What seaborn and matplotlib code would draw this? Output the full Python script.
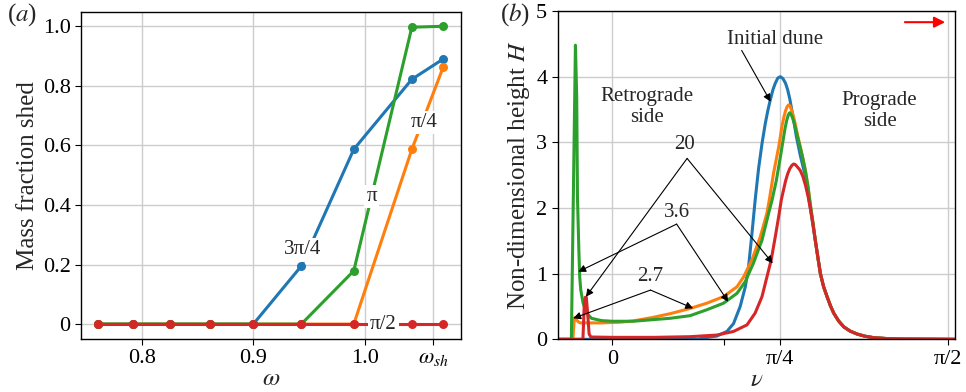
import numpy as np
import pandas as pd
import matplotlib
matplotlib.use("Agg")
import matplotlib.pyplot as plt
import seaborn as sns

# ---------------- data: panel (a) ----------------
omega = [0.761, 0.792, 0.825, 0.861, 0.900, 0.943, 0.990, 1.042, 1.070]
shed_3pi4 = [0, 0, 0, 0, 0, 0.195, 0.587, 0.822, 0.890]
shed_pi4 = [0, 0, 0, 0, 0, 0, 0, 0.587, 0.862]
shed_pi = [0, 0, 0, 0, 0, 0, 0.179, 0.997, 1.0]
shed_pi2 = [0, 0, 0, 0, 0, 0, 0, 0, 0]
omega_sh = 1.061

# ---------------- data: panel (b) ----------------
nu_tail = [0.949, 0.961, 0.973, 0.988, 1.004, 1.020, 1.035, 1.058, 1.082, 1.112, 1.145, 1.180,
           1.222, 1.280, 1.348, 1.602]
H_tail = [1.51, 1.25, 1.00, 0.80, 0.65, 0.51, 0.40, 0.28, 0.19, 0.125, 0.08, 0.048,
          0.025, 0.012, 0.005, 0.0]

nu_initial = [-0.255, 0.40, 0.426, 0.489, 0.536, 0.567, 0.598, 0.622, 0.637, 0.653,
              0.668, 0.684, 0.700, 0.715, 0.727, 0.739, 0.751, 0.762, 0.774, 0.786,
              0.798, 0.810, 0.820, 0.830, 0.840, 0.850, 0.860, 0.879, 0.903, 0.926, 0.938]
H_initial = [0, 0, 0.02, 0.05, 0.12, 0.24, 0.50, 0.80, 1.10, 1.61,
             2.12, 2.60, 2.98, 3.28, 3.48, 3.65, 3.80, 3.90, 3.98, 4.00,
             3.97, 3.90, 3.80, 3.66, 3.48, 3.30, 3.10, 2.80, 2.48, 2.00, 1.74]

nu_27 = [-0.255, -0.184, -0.177, -0.170, -0.160, -0.150, -0.05, 0.036, 0.098, 0.192,
         0.270, 0.364, 0.442, 0.520, 0.583, 0.614, 0.653, 0.692, 0.723, 0.734,
         0.754, 0.778, 0.786, 0.793, 0.802, 0.810, 0.817, 0.824, 0.830, 0.836,
         0.842, 0.848, 0.856, 0.867, 0.879, 0.891, 0.903, 0.915, 0.926, 0.938]
H_27 = [0, 0, 0.33, 0.31, 0.27, 0.25, 0.25, 0.26, 0.28, 0.335,
        0.39, 0.47, 0.55, 0.65, 0.80, 0.95, 1.21, 1.56, 1.92, 2.12,
        2.53, 2.93, 3.09, 3.24, 3.38, 3.48, 3.54, 3.57, 3.56, 3.51,
        3.45, 3.38, 3.27, 3.10, 2.93, 2.76, 2.57, 2.33, 2.05, 1.78]

nu_36 = [-0.255, -0.191, -0.172, -0.166, -0.1625, -0.156, -0.152, -0.147, -0.136, -0.120,
         -0.097, -0.05, 0.0, 0.098, 0.192, 0.270, 0.364, 0.442, 0.520, 0.583,
         0.622, 0.660, 0.700, 0.731, 0.747, 0.767, 0.786, 0.801, 0.808, 0.816,
         0.823, 0.829, 0.835, 0.842, 0.849, 0.856, 0.867, 0.879, 0.891, 0.903,
         0.915, 0.926, 0.938]
H_36 = [0, 0, 4.48, 3.69, 2.17, 1.36, 0.95, 0.75, 0.55, 0.40,
        0.32, 0.285, 0.275, 0.275, 0.30, 0.32, 0.36, 0.45, 0.55, 0.70,
        0.88, 1.16, 1.51, 1.92, 2.12, 2.42, 2.78, 3.08, 3.22, 3.34,
        3.42, 3.45, 3.43, 3.38, 3.31, 3.22, 3.07, 2.92, 2.75, 2.56,
        2.32, 2.05, 1.78]

nu_20 = [-0.255, -0.137, -0.131, -0.126, -0.121, -0.115, -0.108, -0.100, 0.0, 0.20,
         0.364, 0.489, 0.567, 0.630, 0.668, 0.700, 0.723, 0.743, 0.762, 0.778,
         0.790, 0.801, 0.810, 0.820, 0.830, 0.840, 0.848, 0.856, 0.864, 0.872,
         0.879, 0.891, 0.903, 0.915, 0.926, 0.938]
H_20 = [0, 0, 0.50, 0.64, 0.64, 0.40, 0.08, 0.035, 0.03, 0.03,
        0.04, 0.065, 0.12, 0.22, 0.40, 0.65, 0.95, 1.21, 1.56, 1.87,
        2.12, 2.28, 2.41, 2.52, 2.60, 2.65, 2.67, 2.66, 2.63, 2.60,
        2.57, 2.48, 2.35, 2.18, 1.99, 1.76]

C_BLUE, C_ORANGE, C_GREEN, C_RED = "#1f77b4", "#ff7f0e", "#2ca02c", "#d62728"

# ---------------- style ----------------
sns.set_style("ticks")
plt.rcParams["font.family"] = ["Liberation Serif", "DejaVu Serif"]
plt.rcParams["mathtext.fontset"] = "stix"
plt.rcParams["axes.edgecolor"] = "black"
plt.rcParams["axes.linewidth"] = 1.0
plt.rcParams["xtick.color"] = "black"
plt.rcParams["ytick.color"] = "black"
plt.rcParams["xtick.direction"] = "out"
plt.rcParams["ytick.direction"] = "out"

fig = plt.figure(figsize=(9.66, 3.92), dpi=100)
axA = fig.add_axes([0.0839, 0.1352, 0.3933, 0.8342])
axB = fig.add_axes([0.5773, 0.1344, 0.4113, 0.8375])

TICK_FS = 16
LAB_FS = 18
ANN_FS = 15

# ---------------- panel (a) ----------------
dfA = pd.DataFrame({"omega": omega, "3pi4": shed_3pi4, "pi4": shed_pi4,
                    "pi": shed_pi, "pi2": shed_pi2})
for col, c in [("3pi4", C_BLUE), ("pi4", C_ORANGE), ("pi", C_GREEN), ("pi2", C_RED)]:
    sns.lineplot(data=dfA, x="omega", y=col, ax=axA, color=c, lw=2.2,
                 marker="o", markersize=6.5, markeredgewidth=0,
                 estimator=None, sort=False, zorder=2)

axA.set_xlim(0.7457, 1.086)
axA.set_ylim(-0.05, 1.048)
axA.set_xticks([0.8, 0.9, 1.0, omega_sh])
axA.set_xticklabels(["0.8", "0.9", "1.0", r"$\omega_{sh}$"])
axA.set_yticks([0, 0.2, 0.4, 0.6, 0.8, 1.0])
axA.set_yticklabels(["0", "0.2", "0.4", "0.6", "0.8", "1.0"])
axA.grid(True, color="#cccccc", lw=1.0, zorder=0)
axA.set_axisbelow(True)
axA.tick_params(labelsize=TICK_FS, length=4, width=0.8)
axA.set_xlabel(r"$\omega$", fontsize=LAB_FS, labelpad=0)
axA.set_ylabel("Mass fraction shed", fontsize=LAB_FS, labelpad=3)
for s in axA.spines.values():
    s.set_visible(True)

box = dict(facecolor="white", edgecolor="none", pad=1.5)
axA.text(0.9441, 0.249, "3π/4", fontsize=ANN_FS, ha="center", va="center", bbox=box, zorder=5)
axA.text(1.006, 0.428, "π", fontsize=ANN_FS, ha="center", va="center", bbox=box, zorder=5)
axA.text(1.0528, 0.676, "π/4", fontsize=ANN_FS, ha="center", va="center", bbox=box, zorder=5)
axA.text(1.0164, 0.0, "π/2", fontsize=ANN_FS, ha="center", va="center", bbox=box, zorder=5)

# ---------------- panel (b) ----------------
curves = [
    (nu_initial + nu_tail, H_initial + H_tail, C_BLUE),
    (nu_27 + nu_tail, H_27 + H_tail, C_ORANGE),
    (nu_36 + nu_tail, H_36 + H_tail, C_GREEN),
    (nu_20 + nu_tail, H_20 + H_tail, C_RED),
]
for xs, ys, c in curves:
    sns.lineplot(x=xs, y=ys, ax=axB, color=c, lw=2.2, estimator=None, sort=False,
                 zorder=2, solid_joinstyle="round")

axB.set_xlim(-0.255, 1.602)
axB.set_ylim(0, 5)
axB.set_xticks([0, np.pi / 4, np.pi / 2])
axB.set_xticklabels(["0", "π/4", "π/2"])
axB.set_xticks([np.pi / 6], minor=True)
axB.set_yticks([0, 1, 2, 3, 4, 5])
axB.set_yticklabels(["0", "1", "2", "3", "4", "5"])
axB.grid(True, which="major", color="#cccccc", lw=1.0, zorder=0)
axB.set_axisbelow(True)
axB.tick_params(which="both", labelsize=TICK_FS, length=4, width=0.8)
axB.set_xlabel(r"$\nu$", fontsize=LAB_FS, labelpad=0)
axB.set_ylabel(r"Non-dimensional height $H$", fontsize=LAB_FS, labelpad=3)
for s in axB.spines.values():
    s.set_visible(True)

axB.text(0.759, 4.57, "Initial dune", fontsize=ANN_FS, ha="center", va="center")
axB.text(0.161, 3.54, "Retrograde\nside", fontsize=ANN_FS, ha="center", va="center", linespacing=1.15)
axB.text(1.250, 3.48, "Prograde\nside", fontsize=ANN_FS, ha="center", va="center", linespacing=1.15)
axB.text(0.339, 2.96, "20", fontsize=ANN_FS, ha="center", va="center")
axB.text(0.301, 1.93, "3.6", fontsize=ANN_FS, ha="center", va="center")
axB.text(0.176, 0.963, "2.7", fontsize=ANN_FS, ha="center", va="center")

arr = dict(arrowstyle="-|>", color="black", lw=0.8, mutation_scale=11, shrinkA=0, shrinkB=0)
arrows = [
    ((0.605, 4.40), (0.740, 3.62)),
    ((0.350, 2.755), (-0.123, 0.648)),
    ((0.350, 2.755), (0.750, 1.157)),
    ((0.301, 1.755), (-0.159, 1.029)),
    ((0.301, 1.755), (0.542, 0.572)),
    ((0.179, 0.750), (-0.182, 0.320)),
    ((0.179, 0.750), (0.378, 0.472)),
]
for tail, head in arrows:
    axB.annotate("", xy=head, xytext=tail, arrowprops=arr, zorder=6)

axB.annotate("", xy=(1.556, 4.83), xytext=(1.368, 4.83),
             arrowprops=dict(arrowstyle="-|>", color="red", lw=1.5, mutation_scale=16,
                             shrinkA=0, shrinkB=0))

fig.text(0.007, 0.962, "($a$)", fontsize=LAB_FS, ha="left", va="center")
fig.text(0.5176, 0.962, "($b$)", fontsize=LAB_FS, ha="left", va="center")

fig.savefig("out.png", dpi=100)
